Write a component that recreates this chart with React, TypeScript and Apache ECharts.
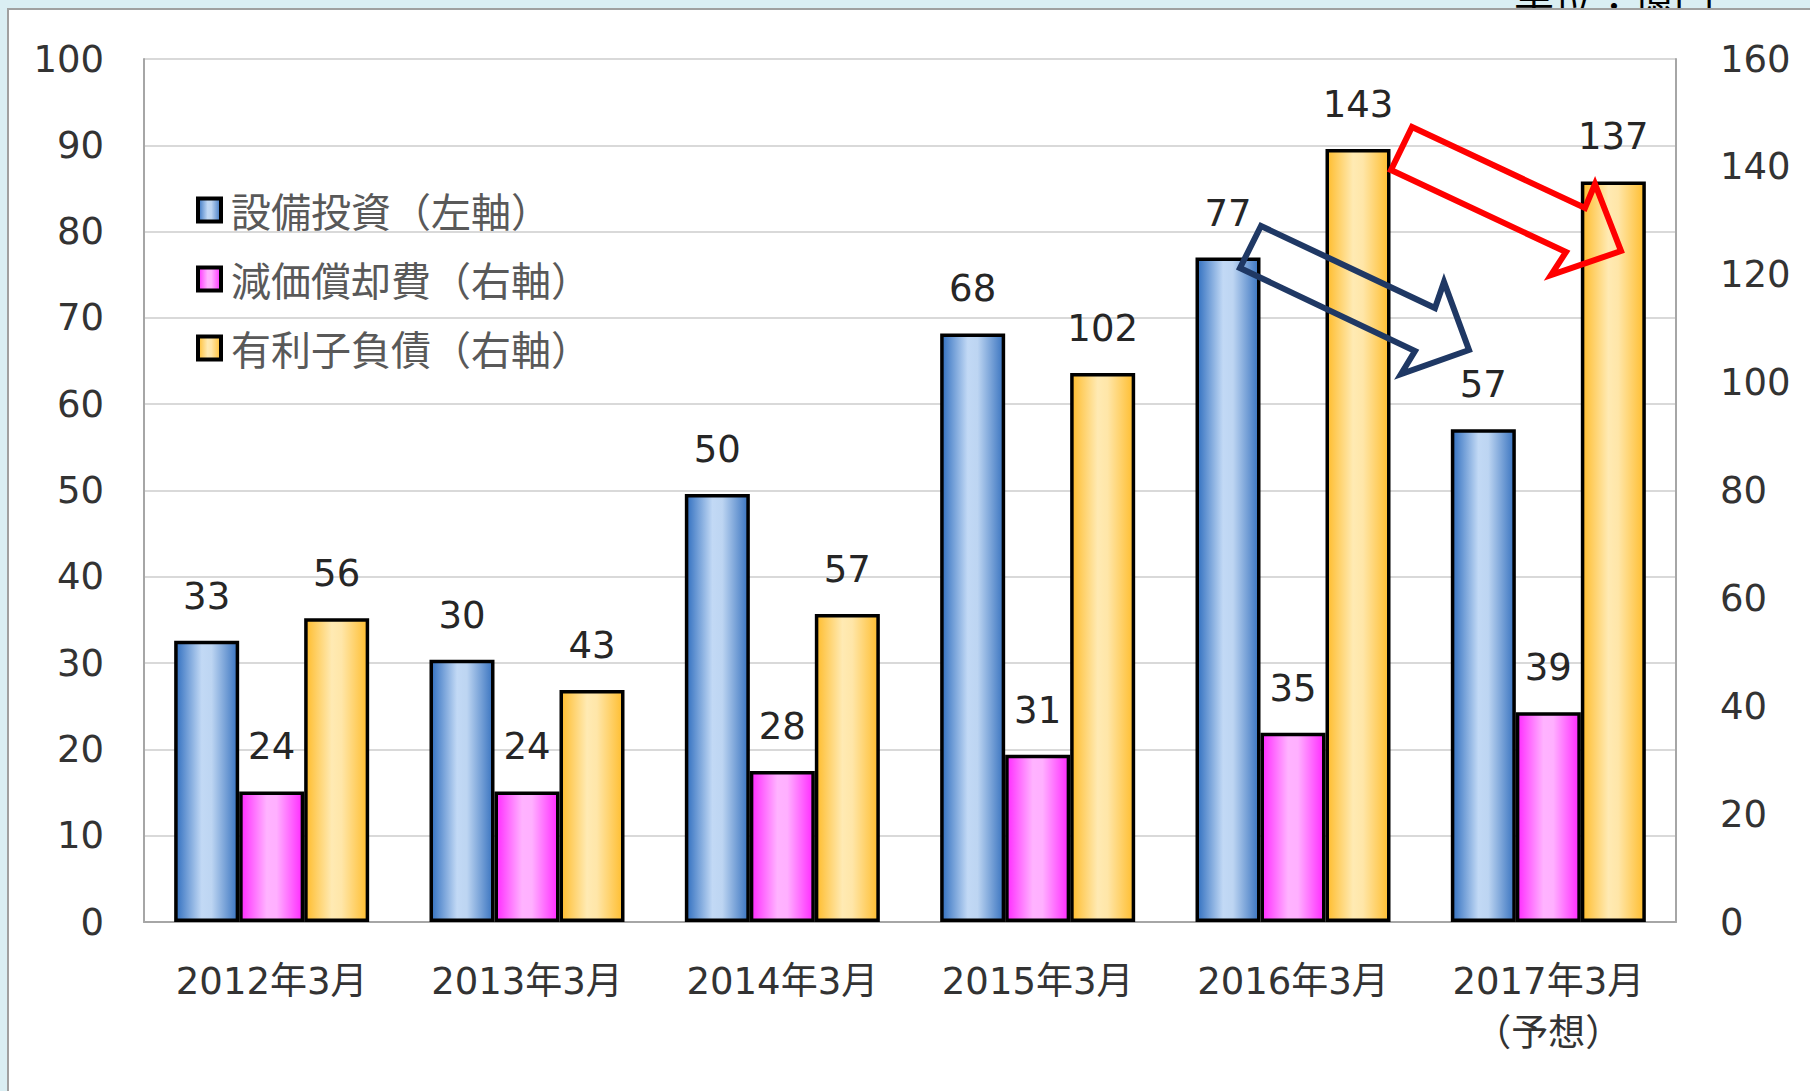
import React, { useEffect, useRef } from "react";
import * as echarts from "echarts";

const categories = ["2012年3月", "2013年3月", "2014年3月", "2015年3月", "2016年3月", "2017年3月\n（予想）"];
const seriesNames = ["設備投資（左軸）", "減価償却費（右軸）", "有利子負債（右軸）"];
const capexValues = [32.6, 30.4, 49.6, 68.2, 77.0, 57.1];
const depreciationValues = [24.2, 24.2, 28.0, 31.0, 35.1, 38.9];
const debtValues = [56.3, 43.0, 57.1, 101.8, 143.3, 137.3];
const leftAxisRange = [0, 100, 10];
const rightAxisRange = [0, 160, 20];
const unitText = "単位：億円";

const NUM_FONT = "'DejaVu Sans', 'Noto Sans CJK JP', sans-serif";
const CJK_FONT = "'Noto Sans CJK JP', sans-serif";

const grad = (edgeL: string, light1: string, light2: string, edgeR: string) =>
  new echarts.graphic.LinearGradient(0, 0, 1, 0, [
    { offset: 0, color: edgeL },
    { offset: 0.42, color: light1 },
    { offset: 0.58, color: light2 },
    { offset: 1, color: edgeR },
  ]);

export default function App() {
  const ref = useRef<HTMLDivElement>(null);
  useEffect(() => {
    if (!ref.current) return;
    const chart = echarts.init(ref.current, undefined, { renderer: "svg" });
    const labelCfg = {
      show: true,
      position: "top",
      distance: 26,
      fontSize: 37,
      color: "#262626",
      fontFamily: NUM_FONT,
      formatter: (p: any) => String(Math.round(p.value)),
    };
    const barBase = {
      type: "bar",
      barWidth: 65,
      barGap: "0%",
      label: labelCfg,
    };
    chart.setOption({
      animation: false,
      backgroundColor: "#daeef3",
      textStyle: { fontFamily: NUM_FONT },
      grid: { left: 144, right: 134, top: 59, bottom: 169, containLabel: false },
      legend: {
        orient: "vertical",
        left: 196,
        top: 187,
        padding: 0,
        icon: "rect",
        itemWidth: 23,
        itemHeight: 23,
        itemGap: 23,
        selectedMode: false,
        itemStyle: { borderColor: "#000", borderWidth: 4 },
        textStyle: { fontSize: 40, color: "#595959", fontFamily: CJK_FONT, lineHeight: 46, padding: [0, 0, 0, 5] },
        data: seriesNames,
      },
      xAxis: {
        type: "category",
        data: categories,
        axisTick: { show: false },
        axisLine: { lineStyle: { color: "#a6a6a6", width: 2 } },
        axisLabel: { margin: 33, fontSize: 37, lineHeight: 52, color: "#333", fontFamily: NUM_FONT },
      },
      yAxis: [
        {
          type: "value",
          min: leftAxisRange[0],
          max: leftAxisRange[1],
          interval: leftAxisRange[2],
          axisLine: { show: true, lineStyle: { color: "#a6a6a6", width: 2 } },
          axisTick: { show: false },
          splitLine: { lineStyle: { color: "#d9d9d9", width: 2 } },
          axisLabel: { margin: 40, fontSize: 37, color: "#333", fontFamily: NUM_FONT },
        },
        {
          type: "value",
          min: rightAxisRange[0],
          max: rightAxisRange[1],
          interval: rightAxisRange[2],
          axisLine: { show: true, lineStyle: { color: "#a6a6a6", width: 2 } },
          axisTick: { show: false },
          splitLine: { show: false },
          axisLabel: { margin: 44, fontSize: 37, color: "#333", fontFamily: NUM_FONT },
        },
      ],
      series: [
        {
          ...barBase,
          name: seriesNames[0],
          yAxisIndex: 0,
          data: capexValues,
          itemStyle: { color: grad("#3270c0", "#c2d9f5", "#bdd5f2", "#3a74c0"), borderColor: "#000", borderWidth: 3.5 },
        },
        {
          ...barBase,
          name: seriesNames[1],
          yAxisIndex: 1,
          data: depreciationValues,
          itemStyle: { color: grad("#ff2bff", "#ffb3ff", "#ffb0ff", "#ff2bff"), borderColor: "#000", borderWidth: 3.5 },
        },
        {
          ...barBase,
          name: seriesNames[2],
          yAxisIndex: 1,
          data: debtValues,
          itemStyle: { color: grad("#ffbd2e", "#ffeab3", "#ffe6a8", "#ffbe30"), borderColor: "#000", borderWidth: 3.5 },
        },
      ],
      graphic: [
        {
          type: "text",
          z: -200,
          x: 1714,
          y: 14,
          style: {
            text: unitText,
            fontSize: 40,
            fontFamily: CJK_FONT,
            fill: "#000",
            textAlign: "right",
            textVerticalAlign: "bottom",
          },
        },
        {
          type: "rect",
          z: -100,
          shape: { x: 8, y: 9, width: 1830, height: 1110 },
          style: { fill: "#ffffff", stroke: "#a0a0a0", lineWidth: 2 },
        },
        {
          type: "polygon",
          z: 100,
          shape: {
            points: [
              [1412, 127], [1585, 208], [1595, 184], [1621, 251], [1551, 275], [1566, 252], [1391, 170],
            ],
          },
          style: { fill: "none", stroke: "#ff0000", lineWidth: 6, lineJoin: "miter" },
        },
        {
          type: "polygon",
          z: 100,
          shape: {
            points: [
              [1261, 226], [1435, 308], [1444, 282], [1469, 350], [1401, 374], [1415, 351], [1240, 268],
            ],
          },
          style: { fill: "none", stroke: "#1f3864", lineWidth: 6, lineJoin: "miter" },
        },
      ],
    });
    return () => chart.dispose();
  }, []);
  return <div ref={ref} style={{ position: "fixed", left: 0, top: 0, width: 1810, height: 1091 }} />;
}
